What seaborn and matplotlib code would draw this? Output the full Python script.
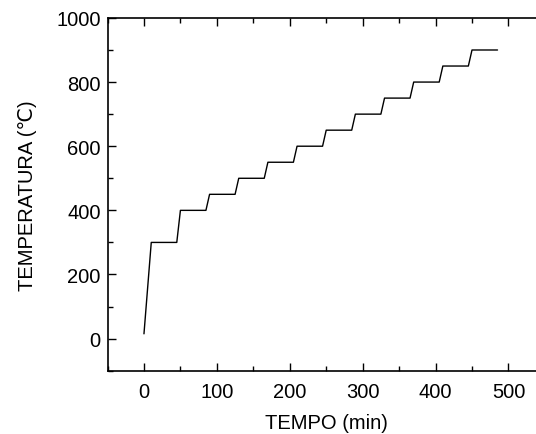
import matplotlib
matplotlib.use("Agg")
import matplotlib.pyplot as plt
import pandas as pd
import seaborn as sns
from matplotlib.ticker import MultipleLocator

# tempo (min) e temperatura (C)
tempo = [0, 10, 45, 50, 85, 90, 125, 130, 165, 170, 205, 210, 245, 250,
         285, 290, 325, 330, 365, 370, 405, 410, 445, 450, 485]
temperatura = [15, 300, 300, 400, 400, 450, 450, 500, 500, 550, 550, 600, 600, 650,
               650, 700, 700, 750, 750, 800, 800, 850, 850, 900, 900]

x_ticks = [0, 100, 200, 300, 400, 500]
y_ticks = [0, 200, 400, 600, 800, 1000]

sns.set_style("ticks")
plt.rcParams['font.family'] = ['Liberation Sans', 'DejaVu Sans']
plt.rcParams['font.size'] = 14.5
plt.rcParams['text.color'] = "black"
plt.rcParams['axes.labelcolor'] = "black"

df = pd.DataFrame({"tempo": tempo, "temperatura": temperatura})

fig = plt.figure(figsize=(5.36, 4.35), dpi=100)
ax = fig.add_axes([0.2006, 0.1455, 0.816, 0.811])
sns.lineplot(data=df, x="tempo", y="temperatura", ax=ax, color="black",
             linewidth=1.0, sort=False, estimator=None)

ax.set_xlim(-50, 550)
ax.set_ylim(-100, 1000)
ax.set_xticks(x_ticks)
ax.set_yticks(y_ticks)
ax.xaxis.set_minor_locator(MultipleLocator(50))
ax.yaxis.set_minor_locator(MultipleLocator(100))
ax.tick_params(which="both", direction="in", top=True, right=True,
               width=1.0, labelsize=14.5, colors="black")
ax.tick_params(which="major", length=5.5)
ax.tick_params(which="minor", length=3.3)
ax.tick_params(axis="x", which="major", pad=8)
ax.tick_params(axis="y", which="major", pad=5)
for s in ax.spines.values():
    s.set_linewidth(1.2)
    s.set_color("black")

ax.set_xlabel("TEMPO (min)", fontsize=14.5, labelpad=9)
ax.set_ylabel("TEMPERATURA (℃)", fontsize=14.5, labelpad=14)

fig.savefig("out.png", dpi=100)
